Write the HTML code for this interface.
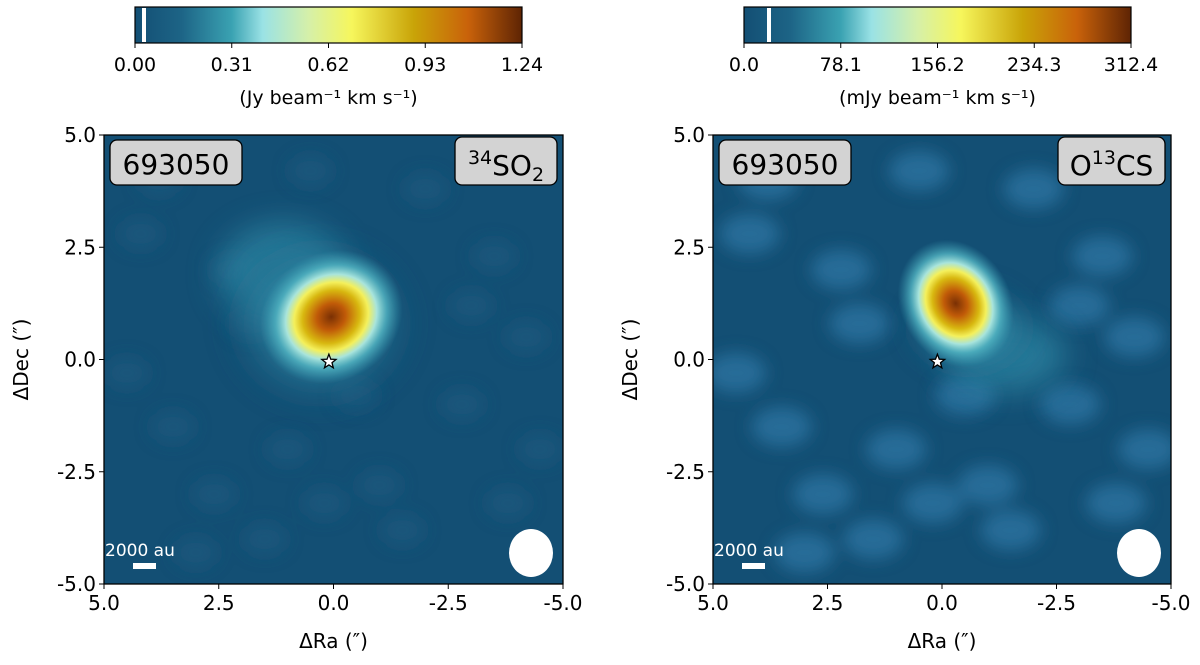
<!DOCTYPE html>
<html><head><meta charset="utf-8"><style>
body{margin:0;background:#fff;width:1200px;height:660px;overflow:hidden}
svg{font-family:"DejaVu Sans","Liberation Sans",sans-serif}
</style></head><body>
<svg id="fig" width="1200" height="660">
<defs>
<linearGradient id="cmap" x1="0" x2="1" y1="0" y2="0">
<stop offset="0" stop-color="#134f74"/><stop offset="0.12" stop-color="#1d6486"/>
<stop offset="0.25" stop-color="#3aa2b2"/><stop offset="0.33" stop-color="#9ae2e5"/>
<stop offset="0.45" stop-color="#d6f0a8"/><stop offset="0.56" stop-color="#f6f65c"/>
<stop offset="0.72" stop-color="#c9a408"/><stop offset="0.86" stop-color="#c9620a"/>
<stop offset="1" stop-color="#5e2404"/></linearGradient>
<radialGradient id="blob"><stop offset="0" stop-color="#7a3004"/><stop offset="0.2" stop-color="#c05a08"/>
<stop offset="0.4" stop-color="#d8b810"/><stop offset="0.52" stop-color="#f4f05c"/>
<stop offset="0.64" stop-color="#a8e4dc"/><stop offset="0.78" stop-color="#52b4c2" stop-opacity="0.8"/>
<stop offset="1" stop-color="#3a9ab0" stop-opacity="0"/></radialGradient>
<radialGradient id="halo"><stop offset="0" stop-color="#4aaabb" stop-opacity="0.9"/><stop offset="0.5" stop-color="#2f86a2" stop-opacity="0.6"/><stop offset="1" stop-color="#134f74" stop-opacity="0"/></radialGradient>
<filter id="bl" x="-50%" y="-50%" width="200%" height="200%"><feGaussianBlur stdDeviation="8"/></filter>
<filter id="bl2" x="-50%" y="-50%" width="200%" height="200%"><feGaussianBlur stdDeviation="16"/></filter>
<clipPath id="c0"><rect x="104" y="135" width="459" height="449"/></clipPath>
<clipPath id="c1"><rect x="713" y="135" width="458" height="449"/></clipPath>
</defs>
</svg>
<script>
const xTicks=[5.0,2.5,0.0,-2.5,-5.0];
const yTicks=[5.0,2.5,0.0,-2.5,-5.0];
const cbTicks0=[0.00,0.31,0.62,0.93,1.24];
const cbTicks1=[0.0,78.1,156.2,234.3,312.4];
const cbLabels=["(Jy beam\u207B\u00B9 km s\u207B\u00B9)","(mJy beam\u207B\u00B9 km s\u207B\u00B9)"];
const blobRa=[0.05,-0.3];
const blobDec=[0.95,1.25];
const blobRx=[1.6,1.2];
const blobRy=[1.4,1.45];
const haloRa=[0.3,-0.6];
const haloDec=[0.8,0.7];
const extRa=[1.1,-1.4];
const extDec=[1.9,0.1];
const starRa=[0.1,0.1];
const starDec=[-0.05,-0.05];
const noiseRa=[4.2,3.5,1.8,-3.5,-4.2,2.6,-1.5,-2.8,1.0,-0.5,3.0,-3.8,0.5,-2.0,2.2,4.5,-1.0,-4.5,1.5,-3.0,3.8,0.2];
const noiseDec=[2.8,-1.5,0.8,2.3,0.5,-3.0,-3.8,-1.0,-2.0,-0.8,-4.3,-3.2,4.2,3.8,2.0,-0.3,-2.8,-2.0,-4.0,1.2,4.0,-3.2];
const NS="http://www.w3.org/2000/svg";
const svg=document.getElementById('fig');
function el(t,a,p){const e=document.createElementNS(NS,t);for(const k in a)e.setAttribute(k,a[k]);(p||svg).appendChild(e);return e;}
const panels=[{x0:104,x1:563,cb0:135,cb1:522},{x0:713,x1:1171,cb0:744,cb1:1131}];
const Y0=135,Y1=584;
panels.forEach((P,i)=>{
 const sx=v=>P.x0+(5-v)/10*(P.x1-P.x0);
 const sy=v=>Y0+(5-v)/10*(Y1-Y0);
 const cb=el('rect',{x:P.cb0,y:7,width:P.cb1-P.cb0,height:36,fill:'url(#cmap)',stroke:'#000','stroke-width':1.2});
 
 
 const mk=el('rect',{x:P.cb0+(i?23:7),y:8,width:4,height:34,fill:'#fff'});
 
 
 const ticks=i?cbTicks1:cbTicks0;const tmax=ticks[ticks.length-1];
 ticks.forEach(t=>{const x=P.cb0+t/tmax*(P.cb1-P.cb0);
  el('line',{x1:x,x2:x,y1:43,y2:48,stroke:'#000'});
  const tx=el('text',{x:x,y:71,'text-anchor':'middle','font-size':19});tx.textContent=i?t.toFixed(1):t.toFixed(2);
  
  });
 const cl=el('text',{x:(P.cb0+P.cb1)/2,y:104,'text-anchor':'middle','font-size':19});cl.textContent=cbLabels[i];
 
 
 const g=el('g',{'clip-path':'url(#c'+i+')'});
 const bg=el('rect',{x:P.x0,y:Y0,width:P.x1-P.x0,height:Y1-Y0,fill:'#134f74'},g);
 
 
 const ng=el('g',{filter:'url(#bl)'},g);
 noiseRa.forEach((r,k)=>{const n=el('ellipse',{cx:sx(r),cy:sy(noiseDec[k]),rx:i?30:22,ry:i?20:16,fill:i?'#2a73a0':'#1a5a80',opacity:i?0.8:0.6},ng);
  
  });
 const sc=(P.x1-P.x0)/10;
 const h2=el('ellipse',{cx:sx(extRa[i]),cy:sy(extDec[i]),rx:(i?1.3:1.4)*sc,ry:(i?0.8:1.1)*sc,fill:'#2f88a5',opacity:0.75,filter:'url(#bl2)'},g);
 
 
 const h=el('ellipse',{cx:sx(haloRa[i]),cy:sy(haloDec[i]),rx:(i?1.6:2.3)*sc,ry:(i?1.2:2.1)*sc,fill:'url(#halo)',filter:'url(#bl)'},g);
 
 
 const b=el('ellipse',{cx:sx(blobRa[i]),cy:sy(blobDec[i]),rx:blobRx[i]*sc,ry:blobRy[i]*sc,fill:'url(#blob)',transform:`rotate(-30 ${sx(blobRa[i])} ${sy(blobDec[i])})`},g);
 
 
 const cx=sx(starRa[i]),cy=sy(starDec[i]);let pts=[];
 for(let k=0;k<10;k++){const r=k%2?3.2:7.5,a=-Math.PI/2+k*Math.PI/5;pts.push((cx+r*Math.cos(a)).toFixed(1)+','+(cy+r*Math.sin(a)).toFixed(1));}
 const st=el('polygon',{points:pts.join(' '),fill:'#fff',stroke:'#000','stroke-width':1.3});
 
 
 const bm=el('ellipse',{cx:P.x1-32,cy:553,rx:22,ry:24,fill:'#fff'});
 
 
 const sbt=el('text',{x:P.x0+1,y:556,'font-size':17,fill:'#fff'});sbt.textContent='2000 au';
 
 
 const sb=el('rect',{x:P.x0+29,y:563,width:23,height:6,fill:'#fff'});
 
 
 el('rect',{x:P.x0,y:Y0,width:P.x1-P.x0,height:Y1-Y0,fill:'none',stroke:'#000','stroke-width':1.3});
 xTicks.forEach(t=>{const x=sx(t);el('line',{x1:x,x2:x,y1:Y1,y2:Y1+5,stroke:'#000'});
  const tx=el('text',{x:x,y:Y1+26,'text-anchor':'middle','font-size':20});tx.textContent=t.toFixed(1);
  
  });
 yTicks.forEach(t=>{const y=sy(t);el('line',{x1:P.x0-5,x2:P.x0,y1:y,y2:y,stroke:'#000'});
  const tx=el('text',{x:P.x0-8,y:y+7,'text-anchor':'end','font-size':20});tx.textContent=t.toFixed(1);
  
  });
 const xl=el('text',{x:(P.x0+P.x1)/2,y:648,'text-anchor':'middle','font-size':20});xl.textContent='ΔRa (″)';
 
 
 const yl=el('text',{x:0,y:0,'text-anchor':'middle','font-size':20,transform:`translate(${P.x0-76},${(Y0+Y1)/2}) rotate(-90)`});yl.textContent='ΔDec (″)';
 
 
 const lb=el('rect',{x:P.x0+6,y:140,width:132,height:45,rx:7,fill:'#d3d3d3',stroke:'#000','stroke-width':1.3});
 
 
 const lt=el('text',{x:P.x0+72,y:174,'text-anchor':'middle','font-size':28});lt.textContent='693050';
 
 
 const w=i?107:102;
 const mb=el('rect',{x:P.x1-6-w,y:137,width:w,height:48,rx:7,fill:'#d3d3d3',stroke:'#000','stroke-width':1.3});
 
 
 const mt=el('text',{x:P.x1-6-w/2,y:175,'text-anchor':'middle','font-size':28});
 if(i==0){mt.innerHTML='<tspan dy="-11" font-size="19">34</tspan><tspan dy="11">SO</tspan><tspan dy="6" font-size="19">2</tspan>';}
 else{mt.innerHTML='O<tspan dy="-11" font-size="19">13</tspan><tspan dy="11">CS</tspan>';}
 
 
});
</script>
</body></html>
